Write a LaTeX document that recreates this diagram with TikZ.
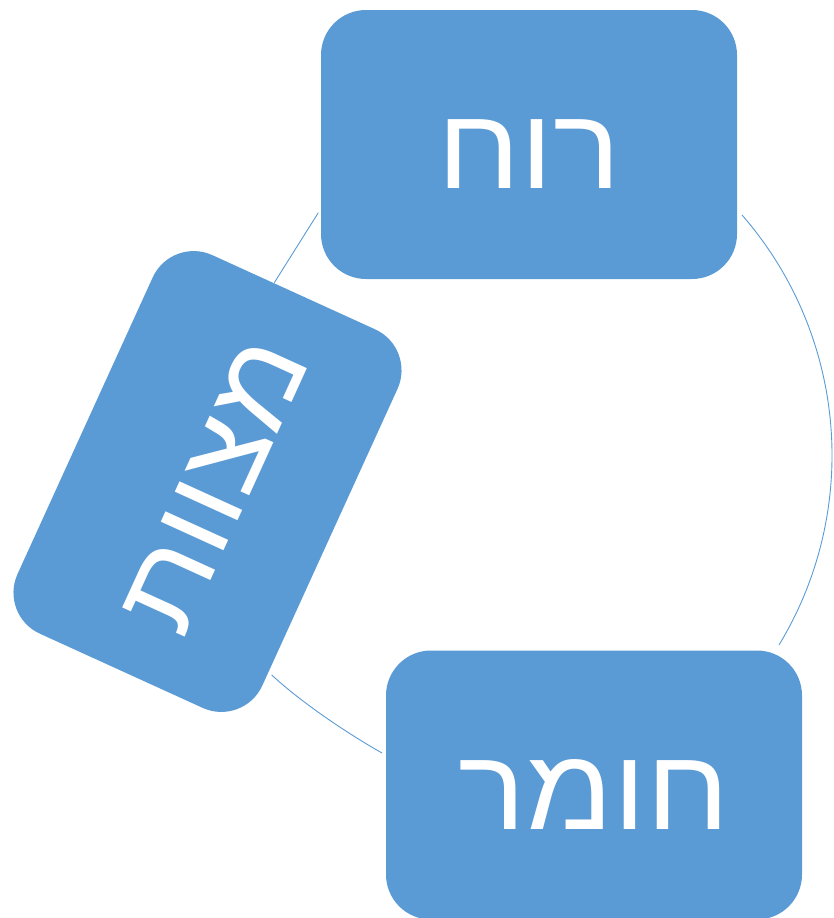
\documentclass[tikz,border=0pt]{standalone}
\usepackage{fontspec}
\newfontfamily\hebfont[Script=Hebrew,FakeStretch=1.1]{Liberation Sans}
\TeXXeTstate=1
\definecolor{boxblue}{HTML}{5B9BD5}
\begin{document}
\begin{tikzpicture}[x=1pt,y=-1pt,
  card/.style={fill=boxblue, draw=none, rounded corners=45pt,
    minimum width=416pt, minimum height=269pt, inner sep=0pt,
    text=white, font=\hebfont\fontsize{115}{130}\selectfont,
    text height=88pt, text depth=0pt},
  cyc/.style={draw=boxblue, line width=0.9pt}]
\useasboundingbox (0,0) rectangle (833,918);
% cycle arcs
\coordinate (a1) at (742,215);
\draw[cyc] (a1) arc[start angle=-41.07, end angle=31.23, radius=365.8] coordinate (a2);
\coordinate (b1) at (382,753);
\coordinate (b2) at (271.7,675);
\draw[cyc] (b2) .. controls (301,702) and (345,732) .. (b1);
\coordinate (t1) at (274.3,282.7);
\coordinate (t2) at (318.3,212.7);
\draw[cyc] (t1) .. controls (296.5,247) .. (t2);
% boxes
\node[card] (ruah) at (529,144.5) {\beginR רוח\endR};
\node[card] (homer) at (594,785) {\beginR חומר\endR};
\node[card, rotate=65.5] (mitzvot) at (207.5,481.5) {\beginR מצוות\endR};
\end{tikzpicture}
\end{document}
